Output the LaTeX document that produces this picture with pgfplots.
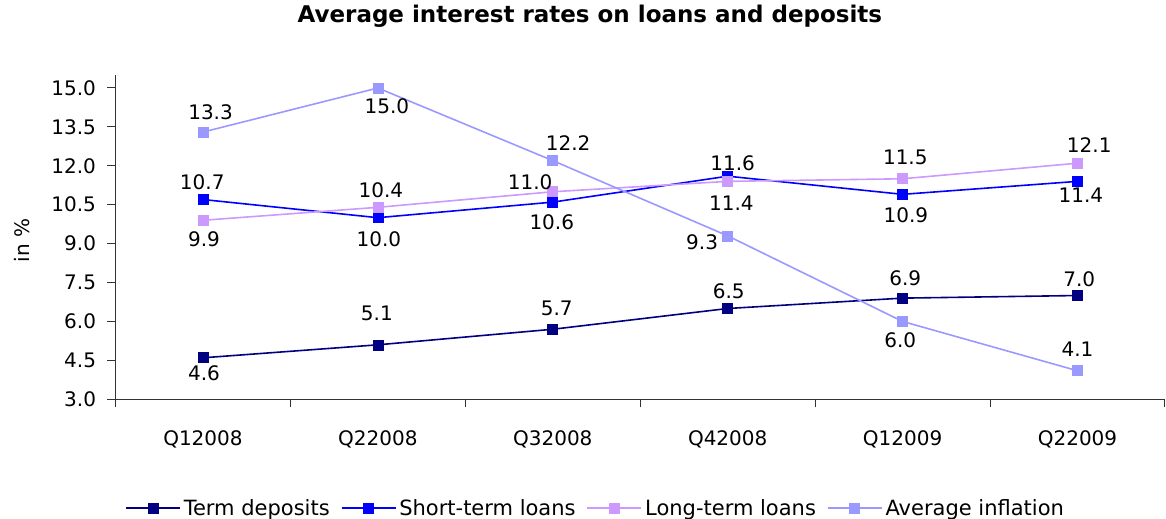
\documentclass[border=0pt]{standalone}
\usepackage{pgfplots}
\usepackage{pgfplotstable}
\pgfplotsset{compat=1.18}
\usepackage{fontspec}
\setmainfont{DejaVu Sans}

\definecolor{cterm}{HTML}{000080}
\definecolor{cshort}{HTML}{0000FF}
\definecolor{clong}{HTML}{CC99FF}
\definecolor{cinfl}{HTML}{9999FF}

\pgfplotstableread{
x y dx up
0 4.6 1 -15.6
1 5.1 -1 31.7
2 5.7 4 21
3 6.5 1 17
4 6.9 2.7 20
5 7.0 1.7 16.4
}\termdata
\pgfplotstableread{
x y dx up
0 10.7 -0.7 17.6
1 10.0 1 -21.6
2 10.6 -1 -20
3 11.6 5 13.3
4 10.9 3.3 -21
5 11.4 3.4 -14.3
}\shortdata
\pgfplotstableread{
x y dx up
0 9.9 1 -19
1 10.4 3 17.4
2 11.0 -22.7 10
3 11.4 3.7 -22.3
4 11.5 2.7 21
5 12.1 11.7 18.4
}\longdata
\pgfplotstableread{
x y dx up
0 13.3 7.6 20
1 15.0 9 -18.3
2 12.2 15.3 17.6
3 9.3 -25.6 -6.7
4 6.0 -2.3 -18.3
5 4.1 0 21.7
}\infldata

\pgfplotsset{
  lbl/.style={
    nodes near coords={\pgfmathprintnumber[fixed,fixed zerofill,precision=1]{\pgfplotspointmeta}},
    visualization depends on={\thisrow{dx}\as\dx},
    visualization depends on={\thisrow{up}\as\up},
    every node near coord/.append style={anchor=center, xshift=\dx bp, yshift=\up bp,
      text=black, inner sep=0pt, font=\fontsize{20bp}{24bp}\selectfont},
  },
  ser/.style={color=#1, line width=1.6bp, mark=square*, mark size=5bp,
    mark options={solid, fill=#1, draw=#1, line width=0.6bp}},
}

\begin{document}
\begin{tikzpicture}
\begin{axis}[
  name=ax,
  scale only axis,
  width=1049.5bp, height=324.3bp,
  xmin=-0.5, xmax=5.5, ymin=3, ymax=15.5,
  axis lines*=left,
  axis line style={line width=1bp, color=black!80},
  tick align=outside,
  major tick length=8bp,
  tick style={line width=1bp, color=black!80},
  xtick={-0.5,0.5,1.5,2.5,3.5,4.5,5.5},
  xticklabels={},
  extra x ticks={0,1,2,3,4,5},
  extra x tick labels={Q12008,Q22008,Q32008,Q42008,Q12009,Q22009},
  extra x tick style={major tick length=0pt, xticklabel style={yshift=-28bp}},
  ytick={3,4.5,6,7.5,9,10.5,12,13.5,15},
  yticklabel style={xshift=-8bp, /pgf/number format/.cd, fixed, fixed zerofill, precision=1},
  /pgf/number format/assume math mode=true,
  ylabel={in \%},
  ylabel style={at={(axis description cs:-0.0891,0.49)}, anchor=center, rotate=0},
  title={\bfseries Average interest rates on loans and deposits},
  title style={at={(axis description cs:0.452,1)}, anchor=center, yshift=53bp,
    font=\fontsize{23bp}{27bp}\selectfont},
  font=\fontsize{20bp}{24bp}\selectfont,
  tick label style={font=\fontsize{20bp}{24bp}\selectfont},
  clip=false,
  legend style={draw=none, fill=none, legend columns=4,
    at={(axis description cs:0.4579,-0.336)}, anchor=center,
    font=\fontsize{21bp}{25bp}\selectfont,
    nodes={inner xsep=3bp},
    /tikz/every even column/.append style={column sep=8bp}},
  legend image code/.code={
    \draw[mark repeat=2,mark phase=2,#1] plot coordinates {(0bp,0bp) (27bp,0bp) (54bp,0bp)};
  },
]
\addplot[ser=cterm, lbl] table[x=x, y=y] {\termdata};
\addlegendentry{Term deposits}
\addplot[ser=cshort, lbl] table[x=x, y=y] {\shortdata};
\addlegendentry{Short-term loans}
\addplot[ser=clong, lbl] table[x=x, y=y] {\longdata};
\addlegendentry{Long-term loans}
\addplot[ser=cinfl, lbl] table[x=x, y=y] {\infldata};
\addlegendentry{Average inflation}
\end{axis}
\pgfresetboundingbox
\path (ax.south west) ++(-115.5bp,-119.7bp) rectangle ++(1166bp,519bp);
\end{tikzpicture}
\end{document}
